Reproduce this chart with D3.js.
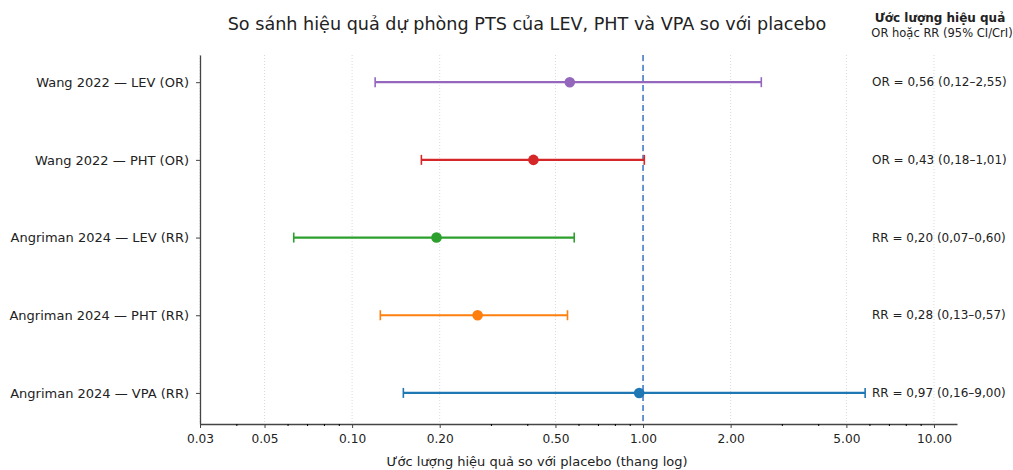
<!DOCTYPE html>
<html>
<head>
<meta charset="utf-8">
<script src="https://cdn.jsdelivr.net/npm/d3@7"></script>
<style>
  body { margin: 0; background: #fff; }
  svg { font-family: "DejaVu Sans", sans-serif; }
</style>
</head>
<body>
<svg id="forest"></svg>
<script>
// studies, top to bottom
var studies = ["Wang 2022 — LEV (OR)", "Wang 2022 — PHT (OR)", "Angriman 2024 — LEV (RR)",
               "Angriman 2024 — PHT (RR)", "Angriman 2024 — VPA (RR)"];
// values as drawn in the picture
var estimates = [0.56, 0.42, 0.195, 0.27, 0.97];
var ciLow = [0.12, 0.173, 0.063, 0.125, 0.15];
// VPA bar is cut at ~5.8 in the picture
var ciHigh = [2.55, 1.01, 0.58, 0.55, 5.8];
var summaries = ["OR = 0,56 (0,12–2,55)", "OR = 0,43 (0,18–1,01)", "RR = 0,20 (0,07–0,60)",
                 "RR = 0,28 (0,13–0,57)", "RR = 0,97 (0,16–9,00)"];
var colors = ["#9467bd", "#d62728", "#2ca02c", "#ff7f0e", "#1f77b4"];
var majorTicks = [0.03, 0.05, 0.1, 0.2, 0.5, 1, 2, 5, 10];

var W = 1013, H = 470;
var margin = {top: 55, right: 56, bottom: 46, left: 200};

var svg = d3.select("#forest").attr("width", W).attr("height", H);
svg.append("rect").attr("width", W).attr("height", H).attr("fill", "#fff");

var x = d3.scaleLog().domain([0.03, 12]).range([margin.left, W - margin.right]);
var y = d3.scaleLinear().domain([-0.35, 4.4]).range([margin.top, H - margin.bottom]);

// minor ticks on the log axis
var minorTicks = [];
[-2, -1, 0, 1].forEach(function(k) {
  d3.range(1, 10).forEach(function(d) {
    var v = +(d * Math.pow(10, k)).toPrecision(3);
    if (v >= 0.03 && v <= 12 && majorTicks.indexOf(v) < 0) minorTicks.push(v);
  });
});

// vertical gridlines
svg.append("g").selectAll("line")
  .data(majorTicks)
  .join("line")
  .attr("x1", function(d) { return x(d); })
  .attr("x2", function(d) { return x(d); })
  .attr("y1", y.range()[0])
  .attr("y2", y.range()[1])
  .attr("stroke", "#cfcfcf")
  .attr("stroke-width", 0.8)
  .attr("stroke-dasharray", "1,2");

// reference line at 1
svg.append("line")
  .attr("x1", x(1)).attr("x2", x(1))
  .attr("y1", y.range()[0]).attr("y2", y.range()[1])
  .attr("stroke", "#3b75c4")
  .attr("stroke-width", 1.5)
  .attr("stroke-dasharray", "6,4");

// x axis
var xAxis = svg.append("g")
  .attr("transform", "translate(0," + y.range()[1] + ")")
  .call(d3.axisBottom(x).tickValues(majorTicks).tickFormat(d3.format(".2f"))
        .tickSize(4).tickSizeOuter(0).tickPadding(6));
svg.append("g")
  .attr("transform", "translate(0," + y.range()[1] + ")")
  .call(d3.axisBottom(x).tickValues(minorTicks).tickFormat("").tickSize(2).tickSizeOuter(0))
  .call(function(g) { g.select(".domain").remove(); });

// y axis
var yAxis = svg.append("g")
  .attr("transform", "translate(" + margin.left + ",0)")
  .call(d3.axisLeft(y).tickValues(d3.range(studies.length))
        .tickFormat(function(i) { return studies[i]; })
        .tickSize(4).tickSizeOuter(0).tickPadding(7));

[xAxis, yAxis].forEach(function(g) {
  g.select(".domain").attr("stroke", "#444").attr("stroke-width", 1.3);
  g.selectAll(".tick line").attr("stroke", "#444");
  g.selectAll(".tick text").attr("fill", "#222").attr("font-family", "DejaVu Sans");
});
xAxis.selectAll(".tick text").attr("font-size", 12.2);
yAxis.selectAll(".tick text").attr("font-size", 13);

// error bars
var rows = svg.append("g").selectAll("g")
  .data(studies.map(function(s, i) { return i; }))
  .join("g");

rows.append("line")
  .attr("x1", function(i) { return x(ciLow[i]); })
  .attr("x2", function(i) { return x(ciHigh[i]); })
  .attr("y1", function(i) { return y(i); })
  .attr("y2", function(i) { return y(i); })
  .attr("stroke", function(i) { return colors[i]; })
  .attr("stroke-width", 2.2);

[ciLow, ciHigh].forEach(function(arr) {
  rows.append("line")
    .attr("x1", function(i) { return x(arr[i]); })
    .attr("x2", function(i) { return x(arr[i]); })
    .attr("y1", function(i) { return y(i) - 5; })
    .attr("y2", function(i) { return y(i) + 5; })
    .attr("stroke", function(i) { return colors[i]; })
    .attr("stroke-width", 1.6);
});

rows.append("circle")
  .attr("cx", function(i) { return x(estimates[i]); })
  .attr("cy", function(i) { return y(i); })
  .attr("r", 5.3)
  .attr("fill", function(i) { return colors[i]; });

// right-hand summaries
rows.append("text")
  .attr("x", 872)
  .attr("y", function(i) { return y(i); })
  .attr("dy", "0.35em")
  .attr("font-size", 12)
  .attr("fill", "#222")
  .text(function(i) { return summaries[i]; });

// header of the summary column
svg.append("text")
  .attr("x", 940).attr("y", 22)
  .attr("text-anchor", "middle")
  .attr("font-size", 12).attr("font-weight", "bold").attr("fill", "#222")
  .text("Ước lượng hiệu quả");
svg.append("text")
  .attr("x", 942).attr("y", 37)
  .attr("text-anchor", "middle")
  .attr("font-size", 11.5).attr("fill", "#222")
  .text("OR hoặc RR (95% CI/CrI)");

// title
svg.append("text")
  .attr("x", 527).attr("y", 30)
  .attr("text-anchor", "middle")
  .attr("font-size", 17.6).attr("fill", "#222")
  .text("So sánh hiệu quả dự phòng PTS của LEV, PHT và VPA so với placebo");

// x label
svg.append("text")
  .attr("x", 537).attr("y", 466)
  .attr("text-anchor", "middle")
  .attr("font-size", 13).attr("fill", "#222")
  .text("Ước lượng hiệu quả so với placebo (thang log)");
</script>
</body>
</html>
